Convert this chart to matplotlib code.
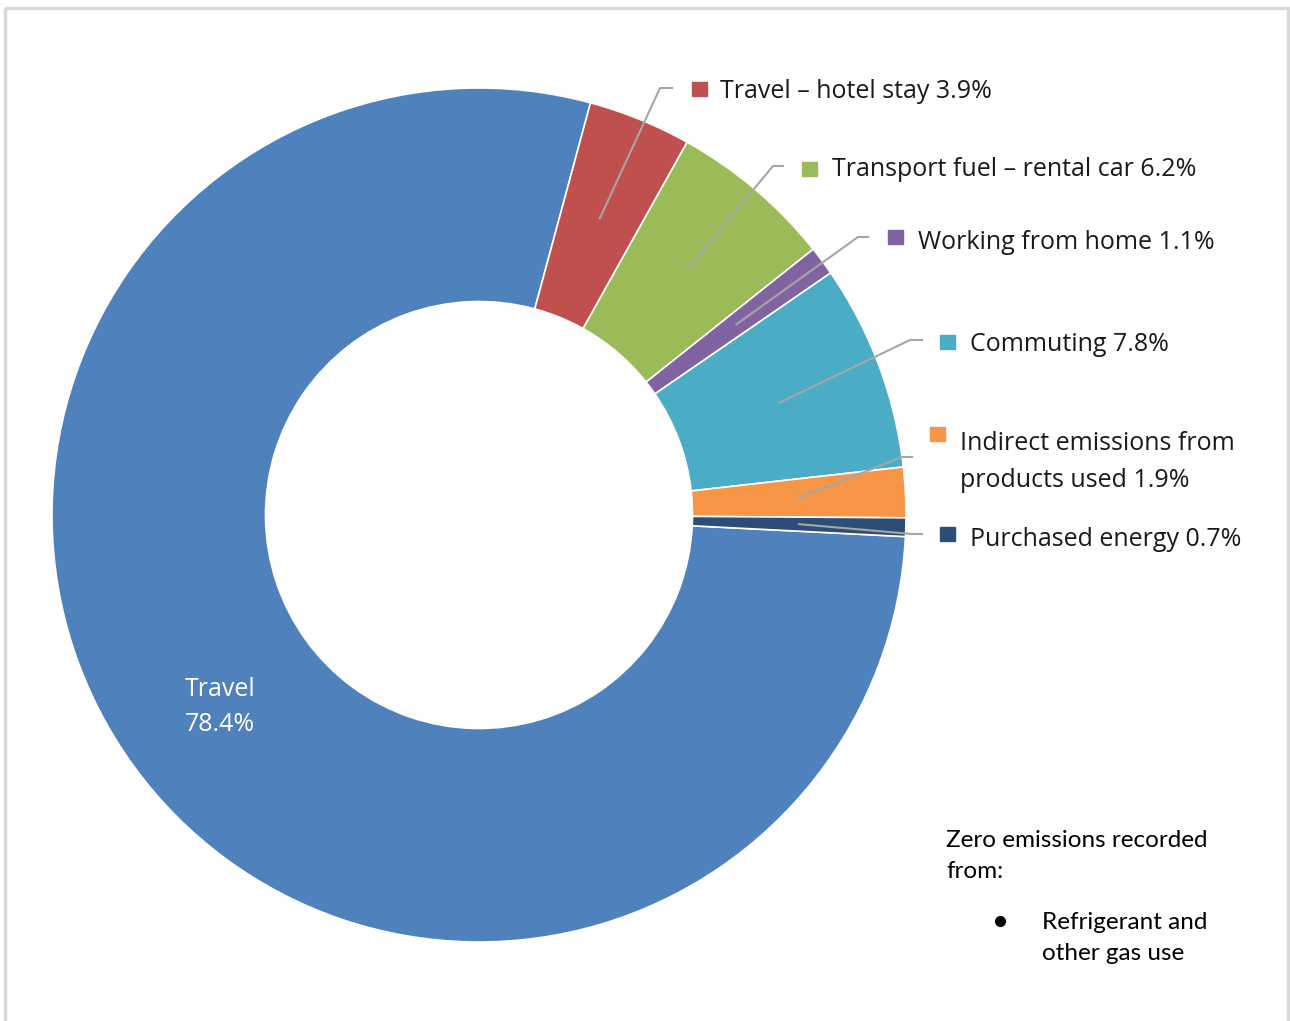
import matplotlib.pyplot as plt
from matplotlib.patches import Rectangle
import numpy as np

# data
categories = ['Travel', 'Travel – hotel stay', 'Transport fuel – rental car',
              'Working from home', 'Commuting',
              'Indirect emissions from\nproducts used', 'Purchased energy']
shares = [78.4, 3.9, 6.2, 1.1, 7.8, 1.9, 0.7]
colors = ['#4F81BD', '#C0504D', '#9BBB59', '#8064A2', '#4BACC6', '#F79646', '#2C4D75']

# label layout in pixel coords (text x, text y, marker x, marker y, elbow x, elbow y, end x)
label_pos = {
    1: (720, 92, 692, 82, 660, 88, 672),
    2: (832, 170, 802, 162, 773, 166, 783),
    3: (918, 242, 888, 230, 858, 237, 868),
    4: (970, 344, 940, 335, 910, 340, 922),
    5: (960, 462, 930, 427, 902, 457, 912),
    6: (970, 539, 940, 527, 912, 534, 922),
}

font = 'Open Sans'
fig = plt.figure(figsize=(12.9, 10.21), dpi=100)
ax = fig.add_axes([0, 0, 1, 1])

cx, cy, r = 479, 515, 427
wedges, _ = ax.pie(shares, colors=colors, center=(cx, cy), radius=r,
                   startangle=2.9, counterclock=True,
                   wedgeprops=dict(width=r * 0.5, edgecolor='white', linewidth=1.2))
ax.set_xlim(0, 1290)
ax.set_ylim(1021, 0)
ax.set_aspect('equal')
ax.axis('off')

# leader lines, markers and labels
rmid = r * 0.75
for i, w in enumerate(wedges):
    mid = np.deg2rad((w.theta1 + w.theta2) / 2)
    sx, sy = cx + rmid * np.cos(mid), cy + rmid * np.sin(mid)
    text = f'{categories[i]} {shares[i]}%'
    if i == 0:
        ax.text(185, 707, f'{categories[i]}\n{shares[i]}%', color='white',
                fontsize=18, family=font, ha='left', va='center', linespacing=1.52)
        continue
    tx, ty, mx, my, ex, ey, endx = label_pos[i]
    ax.plot([sx, ex, endx], [sy, ey, ey], color='#A6A6A6', lw=1.5)
    ax.add_patch(Rectangle((mx, my), 15, 14, color=colors[i]))
    ax.text(tx, ty, text, fontsize=18, family=font, ha='left', va='center',
            color='#1a1a1a', linespacing=1.6)

# note box
ax.text(946, 856, 'Zero emissions recorded\nfrom:', fontsize=17.5, family='Lato',
        ha='left', va='center', linespacing=1.58)
ax.plot([1000], [921], 'o', color='black', ms=7)
ax.text(1042, 938, 'Refrigerant and\nother gas use', fontsize=17.5, family='Lato',
        ha='left', va='center', linespacing=1.55)

# frame
ax.add_patch(Rectangle((5, 8), 1283, 1100, fill=False, edgecolor='#D9D9D9',
                       lw=2.5, clip_on=False))

fig.savefig('out.png', dpi=100)
